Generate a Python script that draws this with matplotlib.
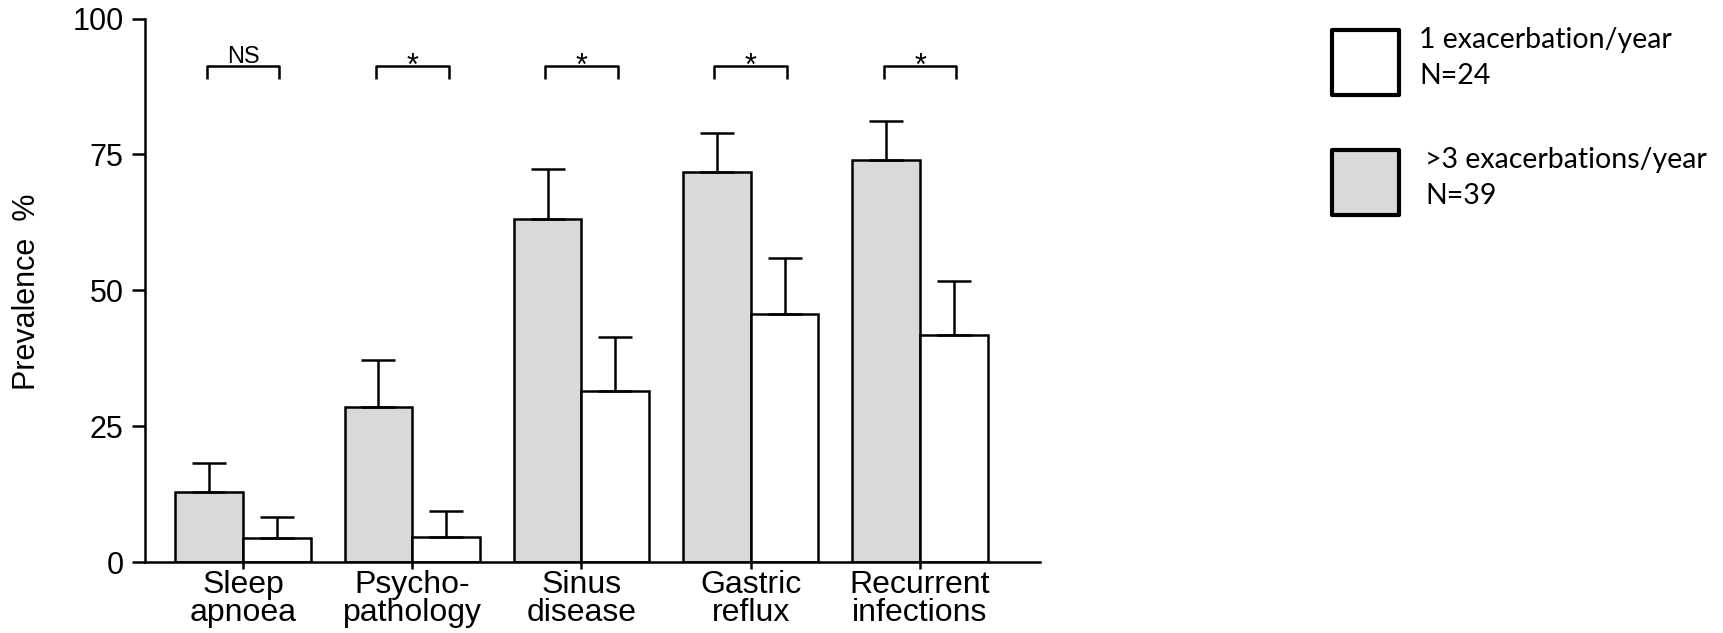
import matplotlib
matplotlib.use("Agg")
import matplotlib.pyplot as plt
import numpy as np
from matplotlib.patches import Rectangle

# prevalence of comorbidities (%), mean and upper SEM
categories = ["Sleep\napnoea", "Psycho-\npathology", "Sinus\ndisease", "Gastric\nreflux", "Recurrent\ninfections"]
frequent = [12.8, 28.6, 63.2, 71.7, 73.9]      # >3 exacerbations/year
frequent_err = [5.5, 8.5, 9.1, 7.2, 7.2]
single = [4.4, 4.6, 31.4, 45.7, 41.7]          # 1 exacerbation/year
single_err = [3.8, 4.8, 10.0, 10.3, 10.0]
significance = ["NS", "*", "*", "*", "*"]

legend_labels = ["1 exacerbation/year\nN=24", ">3 exacerbations/year\nN=39"]
y_ticks = [0, 25, 50, 75, 100]

grey = "#d9d9d9"
lw = 1.8

W, H = 1723, 633
fig = plt.figure(figsize=(W / 100, H / 100), dpi=100)
ax = fig.add_axes([145 / W, 71 / H, (1040 - 145) / W, (562 - 18.5) / H])

x = np.arange(len(categories))
bw = 0.4

ax.bar(x - bw / 2, frequent, bw, color=grey, edgecolor="black", linewidth=lw, zorder=2)
ax.bar(x + bw / 2, single, bw, color="white", edgecolor="black", linewidth=lw, zorder=2)

zeros = np.zeros(len(x))
ax.errorbar(x - bw / 2, frequent, yerr=[zeros, frequent_err], fmt="none",
            ecolor="black", elinewidth=lw, capsize=12, capthick=lw, zorder=3)
ax.errorbar(x + bw / 2, single, yerr=[zeros, single_err], fmt="none",
            ecolor="black", elinewidth=lw, capsize=12, capthick=lw, zorder=3)

# significance brackets
for xi, s in zip(x, significance):
    ax.plot([xi - 0.215, xi - 0.215, xi + 0.215, xi + 0.215], [88.8, 91.2, 91.2, 88.8],
            color="black", linewidth=lw, solid_capstyle="butt", clip_on=False)
    if s == "NS":
        ax.text(xi, 91.9, s, ha="center", va="baseline", fontsize=17,
                family="Liberation Sans")
    else:
        ax.text(xi, 89.6, s, ha="center", va="baseline", fontsize=22,
                family="Liberation Sans")

ax.set_xlim(-0.579, 4.709)
ax.set_ylim(0, 100)
ax.set_yticks(y_ticks)
ax.set_yticklabels([str(t) for t in y_ticks], fontsize=22, family="Liberation Sans")
ax.set_xticks(x)
ax.set_xticklabels(categories, fontsize=23, family="Liberation Sans", linespacing=0.88)
ax.tick_params(axis="y", length=9.5, width=lw, pad=6)
ax.tick_params(axis="x", length=5, width=lw, pad=1)

for side in ["top", "right"]:
    ax.spines[side].set_visible(False)
for side in ["left", "bottom"]:
    ax.spines[side].set_linewidth(lw)

fig.text(27 / W, 1 - 292 / H, "Prevalence  %", rotation=90, ha="center", va="center",
         fontsize=22, family="Liberation Sans")

# legend boxes drawn in figure pixels
boxes = [(1331.7, 30, "white"), (1331.7, 150, grey)]
text_x = [1419, 1425]
for (bx, by, fc), tx, lab in zip(boxes, text_x, legend_labels):
    fig.add_artist(Rectangle((bx / W, 1 - (by + 65) / H), 67.6 / W, 65 / H,
                             transform=fig.transFigure, facecolor=fc,
                             edgecolor="black", linewidth=3, joinstyle="round"))
    fig.text(tx / W, 1 - (by + 28) / H, lab, ha="left", va="center",
             fontsize=20.5, family="Lato", linespacing=1.5)

fig.savefig("out.png", dpi=100)
